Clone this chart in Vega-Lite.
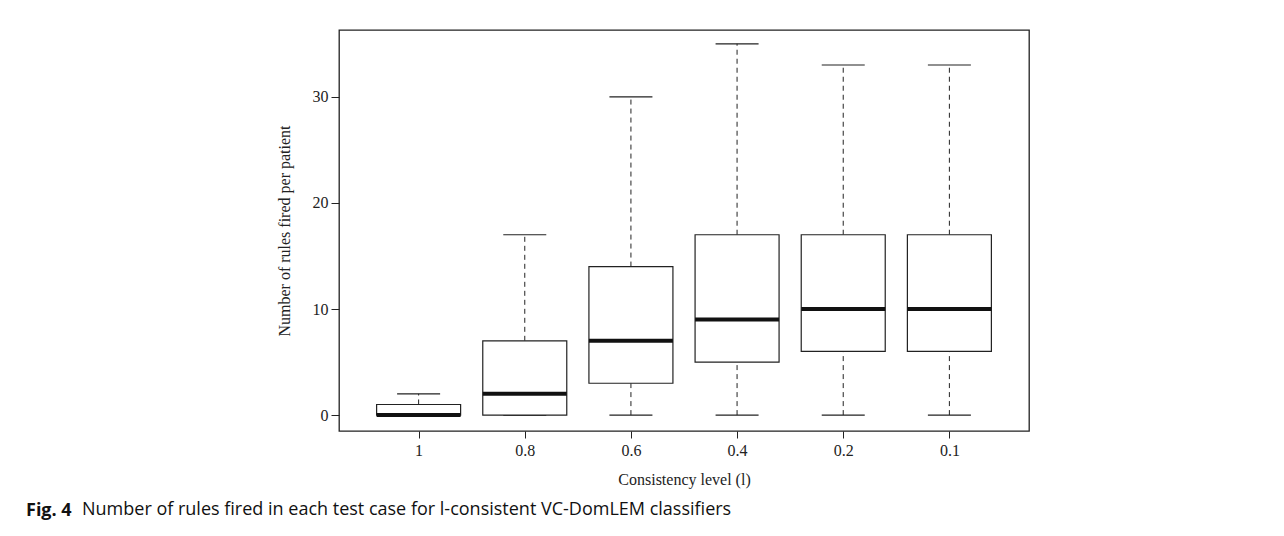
{
  "$schema": "https://vega.github.io/schema/vega-lite/v6.json",
  "autosize": {"type": "pad"},
  "padding": {"left": 26, "top": 29, "right": 255, "bottom": 10},
  "background": "white",
  "title": {"text": "Fig. 4", "orient": "bottom", "anchor": "start", "frame": "group", "font": "Open Sans", "fontSize": 18, "fontWeight": "bold", "color": "#111", "dx": -313, "dy": -22},
  "vconcat": [
    {
      "width": 690,
      "height": 401,
      "title": {"text": "Number of rules fired in each test case for l-consistent VC-DomLEM classifiers", "orient": "bottom", "anchor": "start", "frame": "group", "font": "Open Sans", "fontSize": 18, "fontWeight": "normal", "color": "#111", "dx": -257, "offset": 14},
      "data": {"values": [
        {"level": "1", "lower": 0, "q1": 0, "median": 0, "q3": 1, "upper": 2},
        {"level": "0.8", "lower": 0, "q1": 0, "median": 2, "q3": 7, "upper": 17},
        {"level": "0.6", "lower": 0, "q1": 3, "median": 7, "q3": 14, "upper": 30},
        {"level": "0.4", "lower": 0, "q1": 5, "median": 9, "q3": 17, "upper": 35},
        {"level": "0.2", "lower": 0, "q1": 6, "median": 10, "q3": 17, "upper": 33},
        {"level": "0.1", "lower": 0, "q1": 6, "median": 10, "q3": 17, "upper": 33}
      ]},
      "encoding": {
        "x": {"field": "level", "type": "ordinal", "sort": null,
          "scale": {"type": "point", "padding": 0.75},
          "axis": {"title": "Consistency level (l)", "labelAngle": 0, "domain": false, "ticks": true, "tickSize": 7, "tickColor": "#222", "labelPadding": 4, "titlePadding": 13}}
      },
      "layer": [
        {"mark": {"type": "rule", "strokeDash": [5, 4], "color": "#222", "strokeWidth": 1, "opacity": 1},
         "encoding": {"y": {"field": "q3", "type": "quantitative"}, "y2": {"field": "upper"}}},
        {"mark": {"type": "rule", "strokeDash": [5, 4], "color": "#222", "strokeWidth": 1, "opacity": 1},
         "encoding": {"y": {"field": "lower", "type": "quantitative"}, "y2": {"field": "q1"}}},
        {"mark": {"type": "tick", "orient": "horizontal", "size": 43, "thickness": 1.2, "color": "#222", "opacity": 1},
         "encoding": {"y": {"field": "upper", "type": "quantitative"}}},
        {"mark": {"type": "tick", "orient": "horizontal", "size": 43, "thickness": 1.2, "color": "#222", "opacity": 1},
         "encoding": {"y": {"field": "lower", "type": "quantitative"}}},
        {"mark": {"type": "bar", "width": 84, "fill": "white", "stroke": "#222", "strokeWidth": 1.2, "opacity": 1},
         "encoding": {
           "y": {"field": "q1", "type": "quantitative",
             "scale": {"domain": [-1.5, 36.3], "nice": false, "zero": false},
             "axis": {"title": "Number of rules fired per patient", "values": [0, 10, 20, 30], "grid": false, "domain": false, "tickSize": 8, "tickColor": "#222", "labelPadding": 3, "titlePadding": 20}},
           "y2": {"field": "q3"}}},
        {"mark": {"type": "tick", "orient": "horizontal", "size": 84, "thickness": 4, "color": "#111", "opacity": 1},
         "encoding": {"y": {"field": "median", "type": "quantitative"}}}
      ]
    }
  ],
  "config": {
    "view": {"stroke": "#222", "strokeWidth": 1.3},
    "axis": {"labelFont": "Liberation Serif", "titleFont": "Liberation Serif", "labelFontSize": 16, "titleFontSize": 16, "labelColor": "#222", "titleColor": "#222", "titleFontWeight": "normal"}
  }
}
